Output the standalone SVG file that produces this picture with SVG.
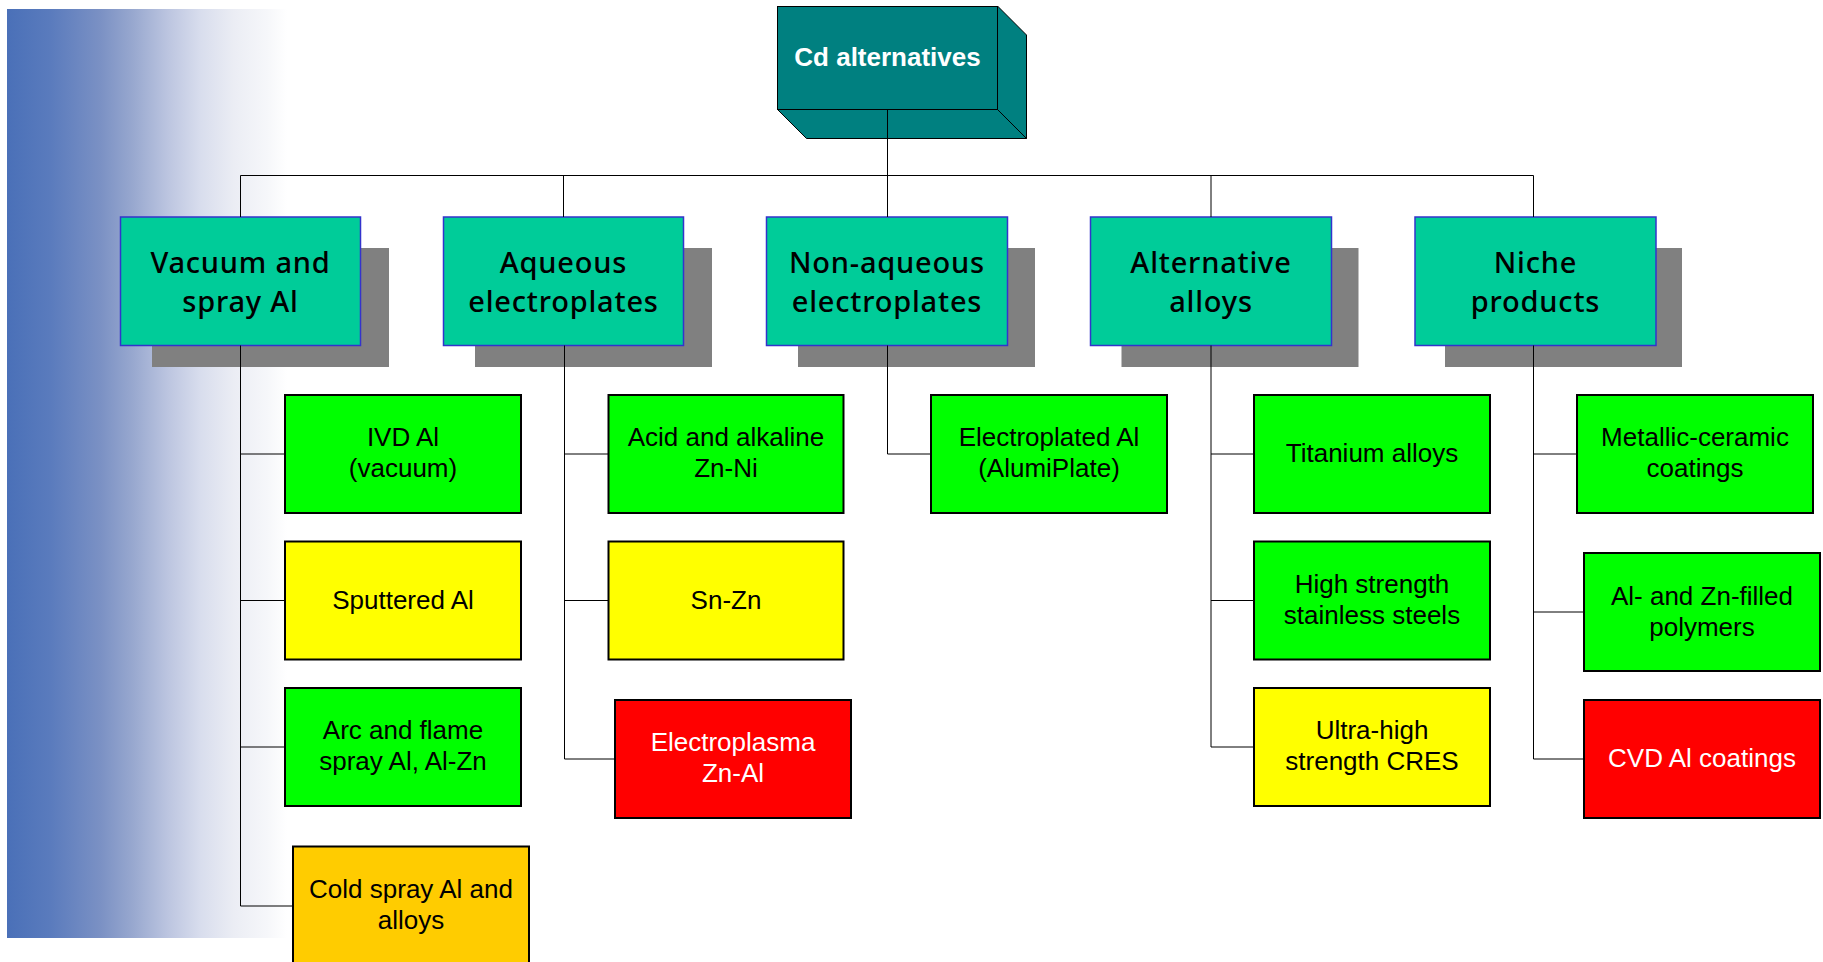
<svg xmlns="http://www.w3.org/2000/svg" width="1823" height="962" viewBox="0 0 1823 962">
<defs>
<linearGradient id="bg" x1="0" y1="0" x2="1" y2="0">
<stop offset="0" stop-color="#4a70b8"/>
<stop offset="0.155" stop-color="#5a7bbd"/>
<stop offset="0.335" stop-color="#7b91c4"/>
<stop offset="0.45" stop-color="#98a8cf"/>
<stop offset="0.575" stop-color="#bcc5e0"/>
<stop offset="0.69" stop-color="#d8dded"/>
<stop offset="0.81" stop-color="#ebedf4"/>
<stop offset="0.93" stop-color="#f6f7fa"/>
<stop offset="1" stop-color="#ffffff"/>
</linearGradient>
<style>
.shadow{fill:#808080}
.cat{fill:#00cc99;stroke:#3333cc;stroke-width:1.5}
.cat-t{font-family:"Noto Sans","DejaVu Sans",sans-serif;font-size:29px;font-weight:500;letter-spacing:0.8px;fill:#000;text-anchor:middle}
.leaf{stroke:#000;stroke-width:2}
.g{fill:#00ff00}.y{fill:#ffff00}.r{fill:#ff0000}.o{fill:#ffcc00}
.leaf-t{font-family:"Liberation Sans",Arial,sans-serif;font-size:26px;fill:#000;text-anchor:middle}
.w{fill:#fff}
.root{fill:#008080;stroke:#000;stroke-width:1}
.root-t{font-family:"Liberation Sans",Arial,sans-serif;font-size:26px;font-weight:bold;fill:#fff;text-anchor:middle}
.ln{stroke:#000;stroke-width:1;fill:none}
</style>
</defs>
<rect x="7" y="9" width="280" height="929" fill="url(#bg)"/>

<g id="root">
<polygon class="root" points="997.5,6 1026.5,35 1026.5,138.5 997.5,109.5"/>
<polygon class="root" points="777.5,109.5 997.5,109.5 1026.5,138.5 806.5,138.5"/>
<rect class="root" x="777.5" y="6.5" width="220" height="103"/>
<text class="root-t" x="887.5" y="66">Cd alternatives</text>
</g>

<g id="cat-vacuum">
<rect class="shadow" x="152" y="248" width="237" height="119"/>
<rect class="cat" x="120.5" y="217" width="240" height="128.5"/>
<text class="cat-t" x="240.5" y="273.3">Vacuum and</text>
<text class="cat-t" x="240.5" y="311.5">spray Al</text>
</g>
<g id="cat-aqueous">
<rect class="shadow" x="475" y="248" width="237" height="119"/>
<rect class="cat" x="443.5" y="217" width="240" height="128.5"/>
<text class="cat-t" x="563.5" y="273.3">Aqueous</text>
<text class="cat-t" x="563.5" y="311.5">electroplates</text>
</g>
<g id="cat-nonaqueous">
<rect class="shadow" x="798" y="248" width="237" height="119"/>
<rect class="cat" x="766.5" y="217" width="241" height="128.5"/>
<text class="cat-t" x="887" y="273.3">Non-aqueous</text>
<text class="cat-t" x="887" y="311.5">electroplates</text>
</g>
<g id="cat-alloys">
<rect class="shadow" x="1121.5" y="248" width="237" height="119"/>
<rect class="cat" x="1090.5" y="217" width="241" height="128.5"/>
<text class="cat-t" x="1211" y="273.3">Alternative</text>
<text class="cat-t" x="1211" y="311.5">alloys</text>
</g>
<g id="cat-niche">
<rect class="shadow" x="1445" y="248" width="237" height="119"/>
<rect class="cat" x="1415" y="217" width="241" height="128.5"/>
<text class="cat-t" x="1535.5" y="273.3">Niche</text>
<text class="cat-t" x="1535.5" y="311.5">products</text>
</g>

<g id="ivd">
<rect class="leaf g" x="285" y="395" width="236" height="118"/>
<text class="leaf-t" x="403" y="446">IVD Al</text>
<text class="leaf-t" x="403" y="477">(vacuum)</text>
</g>
<g id="sputtered">
<rect class="leaf y" x="285" y="541.5" width="236" height="118"/>
<text class="leaf-t" x="403" y="608.5">Sputtered Al</text>
</g>
<g id="arc">
<rect class="leaf g" x="285" y="688" width="236" height="118"/>
<text class="leaf-t" x="403" y="739">Arc and flame</text>
<text class="leaf-t" x="403" y="770">spray Al, Al-Zn</text>
</g>
<g id="cold">
<rect class="leaf o" x="293" y="846.5" width="236" height="118"/>
<text class="leaf-t" x="411" y="897.5">Cold spray Al and</text>
<text class="leaf-t" x="411" y="928.5">alloys</text>
</g>

<g id="acid">
<rect class="leaf g" x="608.5" y="395" width="235" height="118"/>
<text class="leaf-t" x="726" y="446">Acid and alkaline</text>
<text class="leaf-t" x="726" y="477">Zn-Ni</text>
</g>
<g id="snzn">
<rect class="leaf y" x="608.5" y="541.5" width="235" height="118"/>
<text class="leaf-t" x="726" y="608.5">Sn-Zn</text>
</g>
<g id="electroplasma">
<rect class="leaf r" x="615" y="700" width="236" height="118"/>
<text class="leaf-t w" x="733" y="751">Electroplasma</text>
<text class="leaf-t w" x="733" y="782">Zn-Al</text>
</g>

<g id="electroplated">
<rect class="leaf g" x="931" y="395" width="236" height="118"/>
<text class="leaf-t" x="1049" y="446">Electroplated Al</text>
<text class="leaf-t" x="1049" y="477">(AlumiPlate)</text>
</g>

<g id="titanium">
<rect class="leaf g" x="1254" y="395" width="236" height="118"/>
<text class="leaf-t" x="1372" y="462">Titanium alloys</text>
</g>
<g id="hss">
<rect class="leaf g" x="1254" y="541.5" width="236" height="118"/>
<text class="leaf-t" x="1372" y="592.5">High strength</text>
<text class="leaf-t" x="1372" y="623.5">stainless steels</text>
</g>
<g id="cres">
<rect class="leaf y" x="1254" y="688" width="236" height="118"/>
<text class="leaf-t" x="1372" y="739">Ultra-high</text>
<text class="leaf-t" x="1372" y="770">strength CRES</text>
</g>

<g id="metallic">
<rect class="leaf g" x="1577" y="395" width="236" height="118"/>
<text class="leaf-t" x="1695" y="446">Metallic-ceramic</text>
<text class="leaf-t" x="1695" y="477">coatings</text>
</g>
<g id="polymers">
<rect class="leaf g" x="1584" y="553" width="236" height="118"/>
<text class="leaf-t" x="1702" y="605">Al- and Zn-filled</text>
<text class="leaf-t" x="1702" y="636">polymers</text>
</g>
<g id="cvd">
<rect class="leaf r" x="1584" y="700" width="236" height="118"/>
<text class="leaf-t w" x="1702" y="767">CVD Al coatings</text>
</g>

<g id="connectors" class="ln">
<path d="M887.5 110 V217"/>
<path d="M240.5 217 V175.5 H1533.5 V217"/>
<path d="M563.5 175.5 V217 M1211 175.5 V217"/>
<path d="M240.5 345.5 V906 H293"/>
<path d="M240.5 454 H285 M240.5 600.5 H285 M240.5 747 H285"/>
<path d="M564.5 345.5 V759 H615"/>
<path d="M564.5 454 H608.5 M564.5 600.5 H608.5"/>
<path d="M887.5 345.5 V454 H931"/>
<path d="M1211 345.5 V747 H1254"/>
<path d="M1211 454 H1254 M1211 600.5 H1254"/>
<path d="M1533.5 345.5 V759 H1584"/>
<path d="M1533.5 454 H1577 M1533.5 612 H1584"/>
</g>
</svg>
